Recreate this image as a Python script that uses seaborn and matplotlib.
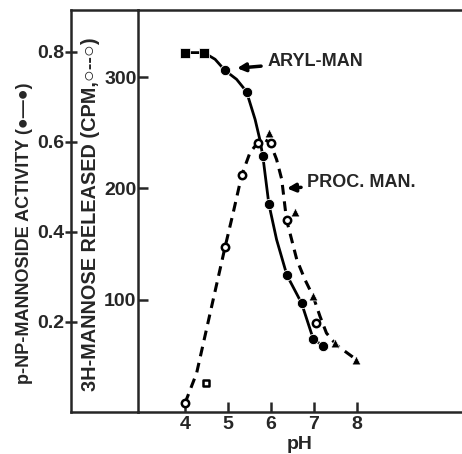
import numpy as np
import matplotlib
matplotlib.use("Agg")
import matplotlib.pyplot as plt
import seaborn as sns

# values (pH vs 3H-mannose cpm scale)
aryl_sq_ph = [4.0, 4.44]
aryl_sq_cpm = [322, 322]
aryl_pt_ph = [4.93, 5.44, 5.81, 5.95, 6.37, 6.72, 6.98, 7.21]
aryl_pt_cpm = [306, 287, 229, 186, 122, 97, 65, 58]
# traced solid curve
aryl_line_ph = [4.0, 4.44, 4.7, 4.93, 5.2, 5.43, 5.63, 5.74, 5.81, 5.95, 6.13, 6.37, 6.71, 6.98, 7.22]
aryl_line_cpm = [322, 322, 316, 306, 298, 287, 262, 244, 229, 186, 154, 122, 97, 65, 58]

proc_pt_ph = [4.0, 4.93, 5.33, 5.70, 6.0, 6.37, 7.05]
proc_pt_cpm = [7, 147, 212, 241, 241, 172, 79]
proc_sq_ph = [4.49]
proc_sq_cpm = [25]
proc_tri_ph = [5.95, 6.56, 6.98, 7.49, 7.98]
proc_tri_cpm = [250, 179, 103, 61, 46]
# traced dashed curve
proc_line_ph = [4.0, 4.27, 4.62, 4.93, 5.12, 5.32, 5.51, 5.69, 5.85, 5.98, 6.13, 6.25, 6.36,
                6.48, 6.60, 6.79, 6.98, 7.14, 7.29, 7.53, 7.99]
proc_line_cpm = [7, 34, 94, 147, 178, 212, 232, 241, 244, 241, 226, 208, 172,
                 154, 136, 118, 103, 85, 70, 59, 46]

ph_ticks = [4, 5, 6, 7, 8]
cpm_ticks = [100, 200, 300]
act_ticks = [0.2, 0.4, 0.6, 0.8]

sns.set_style("ticks")
plt.rcParams['font.family'] = ['Liberation Sans', 'DejaVu Sans']
plt.rcParams['font.weight'] = 'bold'

W, H = 462, 454
fig = plt.figure(figsize=(W / 100, H / 100), dpi=100)

def box(l, r, t, b):
    return [l / W, (H - b) / H, (r - l) / W, (b - t) / H]

ax = fig.add_axes(box(138, 462, 10, 412))
ax_out = fig.add_axes(box(71, 138, 10, 412))

lw = 1.8
# curves
sns.lineplot(x=aryl_line_ph, y=aryl_line_cpm, sort=False, estimator=None, ax=ax,
             color='black', linewidth=2)
sns.lineplot(x=proc_line_ph, y=proc_line_cpm, sort=False, estimator=None, ax=ax,
             color='black', linewidth=2.2)
ax.lines[-1].set_dashes([3.2, 2.2])

# markers
sns.scatterplot(x=aryl_sq_ph, y=aryl_sq_cpm, marker='s', s=45, color='black', ax=ax, zorder=5)
sns.scatterplot(x=aryl_pt_ph, y=aryl_pt_cpm, marker='o', s=55, color='black', ax=ax, zorder=5)
sns.scatterplot(x=proc_pt_ph, y=proc_pt_cpm, marker='o', s=28, facecolor='white',
                edgecolor='black', linewidth=1.8, ax=ax, zorder=6)
sns.scatterplot(x=proc_sq_ph, y=proc_sq_cpm, marker='s', s=22, facecolor='white',
                edgecolor='black', linewidth=1.8, ax=ax, zorder=6)
sns.scatterplot(x=proc_tri_ph, y=proc_tri_cpm, marker='^', s=40, color='black', ax=ax, zorder=6)

# scales: pH 4 at x=185 px, 43 px per unit; cpm 0 at y=411, 1.113 px per unit
ax.set_xlim(4 + (138 - 185) / 43, 4 + (462 - 185) / 43)
ax.set_ylim((411 - 412) / 1.113, (411 - 10) / 1.113)
ax.set_xticks(ph_ticks)
ax.set_xticklabels([str(t) for t in ph_ticks])
ax.set_yticks(cpm_ticks)
ax.set_yticklabels([str(t) for t in cpm_ticks])
ax.tick_params(axis='x', direction='in', length=7, width=lw, labelsize=14, pad=3)
ax.tick_params(axis='y', direction='in', length=7, width=lw, labelsize=14, pad=1)
ax.set_xlabel('pH', fontsize=14, fontweight='bold', labelpad=2)
ax.set_ylabel('')
ax.spines['right'].set_visible(False)
for s in ['left', 'bottom', 'top']:
    ax.spines[s].set_linewidth(lw)

ax_out.set_xlim(0, 1)
ax_out.set_ylim(0, (412 - 10) / 450)
ax_out.set_xticks([])
ax_out.set_yticks(act_ticks)
ax_out.set_yticklabels([str(t) for t in act_ticks])
ax_out.tick_params(axis='y', direction='inout', length=9, width=lw, labelsize=14, pad=0)
ax_out.spines['right'].set_visible(False)
for s in ['left', 'bottom', 'top']:
    ax_out.spines[s].set_linewidth(lw)
ax_out.patch.set_alpha(0)

# axis titles
fig.text(25 / W, 1 - 233 / H, 'p-NP-MANNOSIDE ACTIVITY (\u25cf\u2014\u25cf)', rotation=90,
         ha='center', va='center', fontsize=13, fontweight='bold')
fig.text(91 / W, 1 - 214 / H, '3H-MANNOSE RELEASED (CPM,\u25cb--\u25cb)', rotation=90,
         ha='center', va='center', fontsize=14.3, fontweight='bold')

# annotations
ax.annotate('ARYL-MAN', xy=(5.21, 308), xytext=(5.91, 314), ha='left', va='center',
            fontsize=13, fontweight='bold',
            arrowprops=dict(arrowstyle='-|>', color='black', lw=2.5, shrinkA=2, shrinkB=0,
                            mutation_scale=12))
ax.annotate('PROC. MAN.', xy=(6.37, 200), xytext=(6.84, 205), ha='left', va='center',
            fontsize=13, fontweight='bold',
            arrowprops=dict(arrowstyle='-|>', color='black', lw=2.5, shrinkA=2, shrinkB=0,
                            mutation_scale=12))

fig.savefig('out.png', dpi=100)
